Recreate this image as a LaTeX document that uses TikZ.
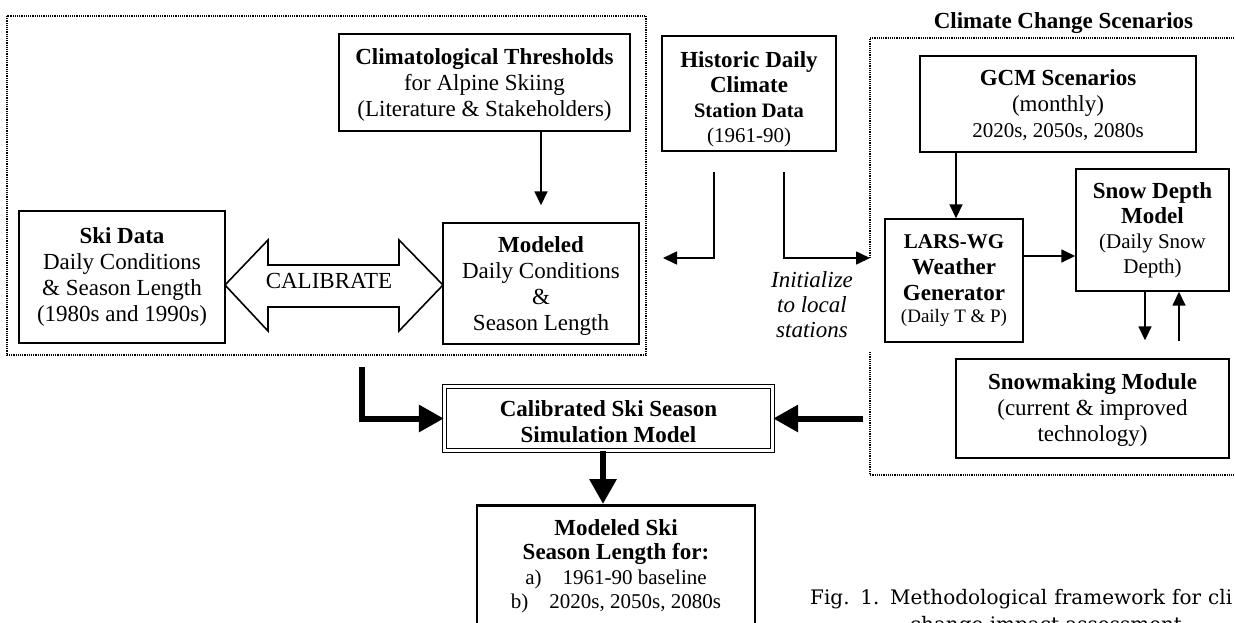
\documentclass[tikz,border=0pt]{standalone}
\usepackage{fontspec}
\setmainfont{Liberation Serif}
\newfontfamily\capfont{DejaVu Serif}
\usetikzlibrary{arrows.meta}
\newcommand\tstrut[1]{\rule{0pt}{#1}}
\begin{document}
\begin{tikzpicture}[x=1pt,y=-1pt,
  box/.style={draw, line width=1.4pt, align=center, inner sep=0pt, font=\fontsize{23}{26}\selectfont},
  dotbox/.style={line width=1.3pt, dash pattern=on 1.2pt off 1pt},
  thinarr/.style={line width=1.6pt, -{Triangle[length=14pt,width=13pt]}},
  thickarr/.style={line width=6pt, -{Triangle[length=25pt,width=26pt]}},
  txt/.style={inner sep=0pt, align=center, font=\fontsize{23}{26}\selectfont},
]
\useasboundingbox (0,0) rectangle (1235,622);
\clip (0,0) rectangle (1235,622);

% dotted group frames
\coordinate (hl) at (714,172);
\coordinate (hlend) at (663,258);
\coordinate (hr) at (784,172);
\coordinate (hrend) at (870,258);
\draw[dotbox] (7,16) rectangle (646,355);
\draw[dotbox] (hrend) -- (870,38) -- (1240,38);
\draw[dotbox] (870,352) -- (870,475) -- (1240,475);

\node[txt, font=\fontsize{23}{26}\selectfont\bfseries] (cct) at (1063.5,23) {Climate Change Scenarios};

% boxes
\node[box, minimum width=291pt, minimum height=97pt] (clim) at (484.5,82.5)
  {\tstrut{20pt}\textbf{Climatological Thresholds}\\for Alpine Skiing\\(Literature \& Stakeholders)};
\node[box, minimum width=174pt, minimum height=115pt, font=\fontsize{23}{25}\selectfont] (hist) at (749,93.5)
  {\tstrut{28pt}\textbf{Historic Daily}\\\textbf{Climate}\\{\fontsize{20.5}{25}\selectfont\textbf{Station Data}}\\{\fontsize{21}{25}\selectfont(1961-90)}};
\node[box, minimum width=206pt, minimum height=132pt] (ski) at (122,277)
  {\textbf{Ski Data}\\Daily Conditions\\\& Season Length\\(1980s and 1990s)};
\node[box, minimum width=196pt, minimum height=121pt] (mod) at (541,283.5)
  {\tstrut{20pt}\textbf{Modeled}\\Daily Conditions\\\&\\Season Length};
\node[box, minimum width=276pt, minimum height=96pt] (gcm) at (1058,104)
  {\tstrut{18pt}\textbf{GCM Scenarios}\\(monthly)\\{\fontsize{21}{26}\selectfont 2020s, 2050s, 2080s}};
\node[box, minimum width=138pt, minimum height=123pt] (lars) at (954,280.5)
  {{\fontsize{21}{26}\selectfont\textbf{LARS-WG}}\\\textbf{Weather}\\\textbf{Generator}\\[-4pt]{\fontsize{19}{22}\selectfont(Daily T \& P)}};
\node[box, minimum width=153pt, minimum height=122pt, font=\fontsize{23}{25}\selectfont] (snow) at (1152.5,230)
  {\textbf{Snow Depth}\\\textbf{Model}\\{\fontsize{21}{25}\selectfont(Daily Snow}\\{\fontsize{21}{25}\selectfont Depth)}};
\node[box, minimum width=273pt, minimum height=99pt] (make) at (1092.5,408.5)
  {\tstrut{18pt}\textbf{Snowmaking Module}\\(current \& improved\\technology)};
\node[box, double, double distance=2.5pt, line width=1.3pt, minimum width=328pt, minimum height=64pt] (calib) at (608.5,418.5)
  {\tstrut{22pt}\textbf{Calibrated Ski Season}\\\textbf{Simulation Model}};
\node[draw, line width=2.6pt, minimum width=278pt, minimum height=150pt, anchor=north] (out) at (616,504) {};
\node[txt, anchor=north, font=\fontsize{21}{24.5}\selectfont] (outtext) at (616,519)
  {{\fontsize{23}{24.5}\selectfont\textbf{Modeled Ski}}\\{\fontsize{23}{24.5}\selectfont\textbf{Season Length for:}}\\a)\quad 1961-90 baseline\\b)\quad 2020s, 2050s, 2080s};

% calibrate double arrow
\draw[line width=1.6pt] (225,285) -- (268,240) -- (268,265) -- (399,265) -- (399,240) -- (443,285)
  -- (399,331) -- (399,307) -- (268,307) -- (268,331) -- cycle;
\node[txt] (calt) at (329,281) {CALIBRATE};

\node[txt, font=\fontsize{23}{25}\selectfont\itshape] (init) at (812,305) {Initialize\\to local\\stations};

% thin connectors
\draw[thinarr] (clim.south -| mod.north) -- ([yshift=17pt]mod.north);
\draw[thinarr] (hl) |- (hlend);
\draw[thinarr] (hr) |- (hrend);
\draw[thinarr] ([xshift=-102pt]gcm.south) -- ([xshift=2pt]lars.north);
\draw[thinarr] ([yshift=24.5pt]lars.east) -- ([yshift=-26pt]snow.west);
\draw[thinarr] ([xshift=-7.5pt]snow.south) -- ([xshift=52.5pt,yshift=18pt]make.north);
\draw[thinarr] ([xshift=86.5pt,yshift=17pt]make.north) -- ([xshift=26.5pt]snow.south);

% thick connectors
\coordinate (lstart) at (362,367);
\coordinate (rstart) at (863,418.5);
\draw[thickarr] (lstart) |- (calib.west);
\draw[thickarr] (rstart) -- (calib.east);
\draw[thickarr] ([xshift=-5.5pt]calib.south) -- ([xshift=-13pt]out.north);

% caption
\node[anchor=base west, inner sep=0pt, font=\capfont\fontsize{20}{24}\selectfont] (cap1) at (810,604)
  {\makebox[422pt][s]{Fig. 1. Methodological framework for cli}};
\node[anchor=base, inner sep=0pt, font=\capfont\fontsize{20}{24}\selectfont] (cap2) at (1046,631)
  {change impact assessment};
\end{tikzpicture}
\end{document}
